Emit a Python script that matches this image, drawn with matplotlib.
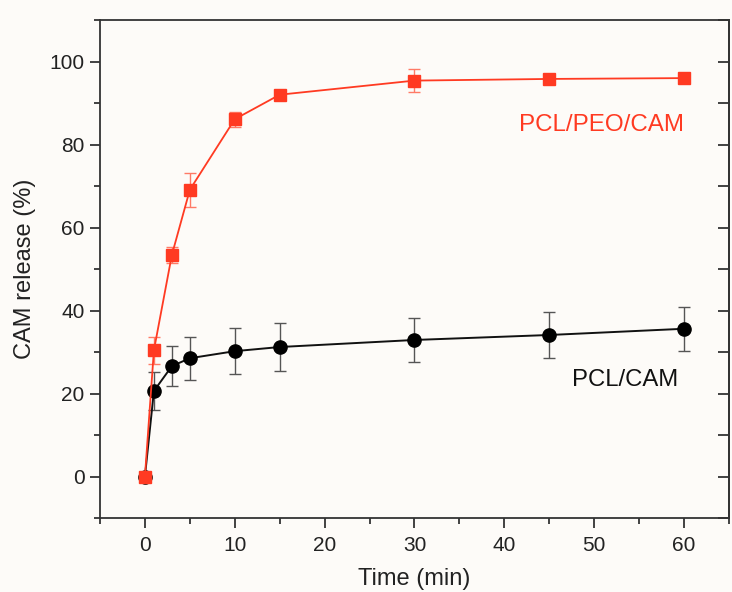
import matplotlib
matplotlib.use("Agg")
import matplotlib.pyplot as plt
from matplotlib.ticker import MultipleLocator

plt.rcParams['font.family'] = ['Liberation Sans', 'DejaVu Sans']

time = [0, 1, 3, 5, 10, 15, 30, 45, 60]
peo_vals = [0, 30.4, 53.4, 69.1, 86.1, 92.0, 95.4, 95.8, 96.0]
peo_err = [0, 3.2, 1.9, 4.1, 1.8, 0.8, 2.8, 1.3, 0.5]
pcl_vals = [0, 20.6, 26.6, 28.5, 30.2, 31.2, 32.9, 34.1, 35.6]
pcl_err = [0, 4.6, 4.9, 5.2, 5.5, 5.7, 5.4, 5.5, 5.25]

red = '#ff3a22'
bg = '#fdfbf8'

fig = plt.figure(figsize=(7.32, 5.92), dpi=100, facecolor=bg)
ax = fig.add_axes([0.1366, 0.125, 0.8593, 0.8412])
ax.set_facecolor(bg)

ax.errorbar(time, pcl_vals, yerr=pcl_err, color='#111111', lw=1.4, marker='o',
            ms=9.5, mfc='black', mec='black', ecolor='#555555', elinewidth=1.0,
            capsize=4, capthick=1.0, zorder=3)
ax.errorbar(time, peo_vals, yerr=peo_err, color=red, lw=1.3, marker='s',
            ms=8, mfc=red, mec=red, ecolor='#ff7a66', elinewidth=1.0,
            capsize=4, capthick=1.0, zorder=4)

ax.text(60, 84.7, 'PCL/PEO/CAM', color=red, fontsize=17.4, ha='right', va='center')
ax.text(59.3, 23.3, 'PCL/CAM', color='#111111', fontsize=17.2, ha='right', va='center')

ax.set_xlim(-5, 65)
ax.set_ylim(-10, 110)
ax.xaxis.set_major_locator(MultipleLocator(10))
ax.xaxis.set_minor_locator(MultipleLocator(5))
ax.yaxis.set_major_locator(MultipleLocator(20))
ax.yaxis.set_minor_locator(MultipleLocator(10))

for s in ax.spines.values():
    s.set_color('#333333')
    s.set_linewidth(1.3)

ax.tick_params(axis='both', which='both', direction='out', colors='#333333',
               labelcolor='#222222', labelsize=15, width=1.3)
ax.tick_params(axis='both', which='major', length=7)
ax.tick_params(axis='both', which='minor', length=4.5)
ax.tick_params(axis='x', which='both', top=False, pad=6)
ax.tick_params(axis='y', which='both', pad=4)

ax2 = ax.secondary_yaxis('right')
ax2.yaxis.set_major_locator(MultipleLocator(20))
ax2.yaxis.set_minor_locator(MultipleLocator(10))
ax2.tick_params(axis='y', which='both', direction='in', labelright=False,
                colors='#333333', width=1.3)
ax2.tick_params(axis='y', which='major', length=8)
ax2.tick_params(axis='y', which='minor', length=8)
ax2.spines['right'].set_color('#333333')
ax2.spines['right'].set_linewidth(1.3)

ax.set_xlabel('Time (min)', fontsize=17, color='#222222', labelpad=9)
ax.set_ylabel('CAM release (%)', fontsize=17, color='#222222', labelpad=10)

fig.savefig('out.png', dpi=100, facecolor=bg)
